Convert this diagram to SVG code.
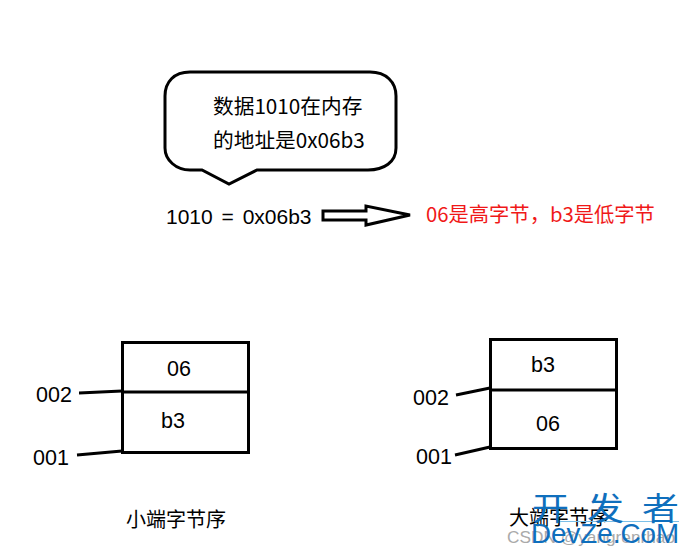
<svg xmlns="http://www.w3.org/2000/svg" width="689" height="556" viewBox="0 0 689 556">
<style>
text{font-family:"Noto Sans CJK SC","Liberation Sans",sans-serif;font-size:20px;fill:#000}
.t{font-size:20.700px}
.l{font-family:"Liberation Sans","Noto Sans CJK SC",sans-serif;font-size:21.500px}
.s{fill:none;stroke:#000;stroke-width:3}
.w{font-family:"Liberation Sans","Noto Sans CJK SC",sans-serif;fill:#0f6fbd}
</style>
<rect width="689" height="556" fill="#fff"/>
<g id="bubble">
<path class="s" d="M190 72H370C386 72 396 82 396 96V148C396 162 384 170 368 170H257L229 184L202 170H190C176 170 165 160 165 148V96C165 82 174 72 190 72Z"/>
<text class="t" x="213" y="114">数据1010在内存</text>
<text class="t" x="213" y="148">的地址是0x06b3</text>
</g>
<g id="equation"><text class="l" x="166" y="224" style="font-size:21px;word-spacing:3px" xml:space="preserve">1010 = 0x06b3</text></g>
<g id="arrow"><path class="s" d="M323 211H366V206L410 215L366 225V220H323Z"/></g>
<g id="note"><text x="426" y="222" style="font-size:20.300px;fill:#f01818">06是高字节，b3是低字节</text></g>
<g id="little-endian">
<rect class="s" x="122.500" y="342.500" width="126" height="110"/>
<path class="s" d="M122 392H248"/>
<text class="l" x="167" y="376">06</text>
<text class="l" x="161" y="428">b3</text>
<text x="126" y="527">小端字节序</text>
</g>
<g id="big-endian">
<rect class="s" x="490.500" y="339.500" width="126" height="109"/>
<path class="s" d="M490 390H616"/>
<text class="l" x="531" y="372">b3</text>
<text class="l" x="536" y="431">06</text>
<text x="509" y="525">大端字节序</text>
</g>
<g id="addr-l002"><text class="l" x="36" y="402">002</text></g>
<g id="addr-l001"><text class="l" x="33" y="465">001</text></g>
<g id="addr-b002"><text class="l" x="413" y="405">002</text></g>
<g id="addr-b001"><text class="l" x="416" y="464">001</text></g>
<g id="connectors">
<path class="s" d="M79 393L122 391M77 455L122 451M456 395L490 388M455 455L490 447"/>
</g>
<g id="watermark">
<text class="l" x="507" y="543" textLength="168" lengthAdjust="spacingAndGlyphs" style="font-size:17px;fill:#aaa">CSDN @yangrenrhao</text>
<path d="M560 521.500H679" stroke="#7cc0e8" stroke-width="1"/>
<text class="w" transform="translate(532 520) scale(1 .85)" style="font-size:37px;letter-spacing:18px">开发者</text>
<text class="w" x="531" y="543" textLength="148" lengthAdjust="spacingAndGlyphs" style="font-size:28px">DevZe.CoM</text>
</g>
</svg>
